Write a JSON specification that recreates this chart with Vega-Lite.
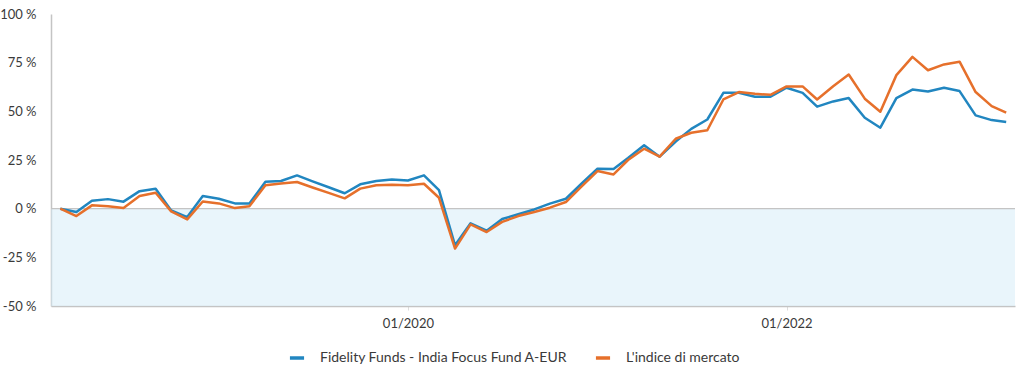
{
  "$schema": "https://vega.github.io/schema/vega-lite/v6.json",
  "width": 964,
  "height": 292,
  "autosize": {"type": "none"},
  "padding": {"left": 51, "top": 14, "right": 9, "bottom": 70},
  "config": {"view": {"stroke": null}, "font": "Lato"},
  "datasets": {
    "perf": [
      {"date": "2018-03-01", "series": "Fidelity Funds - India Focus Fund A-EUR", "value": 0},
      {"date": "2018-04-01", "series": "Fidelity Funds - India Focus Fund A-EUR", "value": -1.7},
      {"date": "2018-05-01", "series": "Fidelity Funds - India Focus Fund A-EUR", "value": 4.1},
      {"date": "2018-06-01", "series": "Fidelity Funds - India Focus Fund A-EUR", "value": 4.9},
      {"date": "2018-07-01", "series": "Fidelity Funds - India Focus Fund A-EUR", "value": 3.6},
      {"date": "2018-08-01", "series": "Fidelity Funds - India Focus Fund A-EUR", "value": 9.0},
      {"date": "2018-09-01", "series": "Fidelity Funds - India Focus Fund A-EUR", "value": 10.2},
      {"date": "2018-10-01", "series": "Fidelity Funds - India Focus Fund A-EUR", "value": -0.9},
      {"date": "2018-11-01", "series": "Fidelity Funds - India Focus Fund A-EUR", "value": -4.3},
      {"date": "2018-12-01", "series": "Fidelity Funds - India Focus Fund A-EUR", "value": 6.5},
      {"date": "2019-01-01", "series": "Fidelity Funds - India Focus Fund A-EUR", "value": 5.1},
      {"date": "2019-02-01", "series": "Fidelity Funds - India Focus Fund A-EUR", "value": 2.7},
      {"date": "2019-03-01", "series": "Fidelity Funds - India Focus Fund A-EUR", "value": 2.6},
      {"date": "2019-04-01", "series": "Fidelity Funds - India Focus Fund A-EUR", "value": 13.8},
      {"date": "2019-05-01", "series": "Fidelity Funds - India Focus Fund A-EUR", "value": 14.2},
      {"date": "2019-06-01", "series": "Fidelity Funds - India Focus Fund A-EUR", "value": 17.1},
      {"date": "2019-07-01", "series": "Fidelity Funds - India Focus Fund A-EUR", "value": 14.0},
      {"date": "2019-08-01", "series": "Fidelity Funds - India Focus Fund A-EUR", "value": 11.0},
      {"date": "2019-09-01", "series": "Fidelity Funds - India Focus Fund A-EUR", "value": 7.9},
      {"date": "2019-10-01", "series": "Fidelity Funds - India Focus Fund A-EUR", "value": 12.5},
      {"date": "2019-11-01", "series": "Fidelity Funds - India Focus Fund A-EUR", "value": 14.2},
      {"date": "2019-12-01", "series": "Fidelity Funds - India Focus Fund A-EUR", "value": 15.0},
      {"date": "2020-01-01", "series": "Fidelity Funds - India Focus Fund A-EUR", "value": 14.5},
      {"date": "2020-02-01", "series": "Fidelity Funds - India Focus Fund A-EUR", "value": 17.1},
      {"date": "2020-03-01", "series": "Fidelity Funds - India Focus Fund A-EUR", "value": 9.5},
      {"date": "2020-04-01", "series": "Fidelity Funds - India Focus Fund A-EUR", "value": -18.8},
      {"date": "2020-05-01", "series": "Fidelity Funds - India Focus Fund A-EUR", "value": -7.5},
      {"date": "2020-06-01", "series": "Fidelity Funds - India Focus Fund A-EUR", "value": -11.3},
      {"date": "2020-07-01", "series": "Fidelity Funds - India Focus Fund A-EUR", "value": -5.3},
      {"date": "2020-08-01", "series": "Fidelity Funds - India Focus Fund A-EUR", "value": -2.9},
      {"date": "2020-09-01", "series": "Fidelity Funds - India Focus Fund A-EUR", "value": -0.4},
      {"date": "2020-10-01", "series": "Fidelity Funds - India Focus Fund A-EUR", "value": 2.6},
      {"date": "2020-11-01", "series": "Fidelity Funds - India Focus Fund A-EUR", "value": 5.1},
      {"date": "2020-12-01", "series": "Fidelity Funds - India Focus Fund A-EUR", "value": 12.8},
      {"date": "2021-01-01", "series": "Fidelity Funds - India Focus Fund A-EUR", "value": 20.5},
      {"date": "2021-02-01", "series": "Fidelity Funds - India Focus Fund A-EUR", "value": 20.4},
      {"date": "2021-03-01", "series": "Fidelity Funds - India Focus Fund A-EUR", "value": 26.0},
      {"date": "2021-04-01", "series": "Fidelity Funds - India Focus Fund A-EUR", "value": 32.6},
      {"date": "2021-05-01", "series": "Fidelity Funds - India Focus Fund A-EUR", "value": 26.7},
      {"date": "2021-06-01", "series": "Fidelity Funds - India Focus Fund A-EUR", "value": 34.5},
      {"date": "2021-07-01", "series": "Fidelity Funds - India Focus Fund A-EUR", "value": 41.0},
      {"date": "2021-08-01", "series": "Fidelity Funds - India Focus Fund A-EUR", "value": 45.8},
      {"date": "2021-09-01", "series": "Fidelity Funds - India Focus Fund A-EUR", "value": 59.5},
      {"date": "2021-10-01", "series": "Fidelity Funds - India Focus Fund A-EUR", "value": 59.5},
      {"date": "2021-11-01", "series": "Fidelity Funds - India Focus Fund A-EUR", "value": 57.5},
      {"date": "2021-12-01", "series": "Fidelity Funds - India Focus Fund A-EUR", "value": 57.5},
      {"date": "2022-01-01", "series": "Fidelity Funds - India Focus Fund A-EUR", "value": 62.1},
      {"date": "2022-02-01", "series": "Fidelity Funds - India Focus Fund A-EUR", "value": 59.5},
      {"date": "2022-03-01", "series": "Fidelity Funds - India Focus Fund A-EUR", "value": 52.4},
      {"date": "2022-04-01", "series": "Fidelity Funds - India Focus Fund A-EUR", "value": 55.1},
      {"date": "2022-05-01", "series": "Fidelity Funds - India Focus Fund A-EUR", "value": 56.8},
      {"date": "2022-06-01", "series": "Fidelity Funds - India Focus Fund A-EUR", "value": 46.7},
      {"date": "2022-07-01", "series": "Fidelity Funds - India Focus Fund A-EUR", "value": 41.6},
      {"date": "2022-08-01", "series": "Fidelity Funds - India Focus Fund A-EUR", "value": 56.8},
      {"date": "2022-09-01", "series": "Fidelity Funds - India Focus Fund A-EUR", "value": 61.2},
      {"date": "2022-10-01", "series": "Fidelity Funds - India Focus Fund A-EUR", "value": 60.2},
      {"date": "2022-11-01", "series": "Fidelity Funds - India Focus Fund A-EUR", "value": 62.1},
      {"date": "2022-12-01", "series": "Fidelity Funds - India Focus Fund A-EUR", "value": 60.4},
      {"date": "2023-01-01", "series": "Fidelity Funds - India Focus Fund A-EUR", "value": 47.9},
      {"date": "2023-02-01", "series": "Fidelity Funds - India Focus Fund A-EUR", "value": 45.5},
      {"date": "2023-03-01", "series": "Fidelity Funds - India Focus Fund A-EUR", "value": 44.5},
      {"date": "2018-03-01", "series": "L'indice di mercato", "value": 0},
      {"date": "2018-04-01", "series": "L'indice di mercato", "value": -3.8},
      {"date": "2018-05-01", "series": "L'indice di mercato", "value": 1.7},
      {"date": "2018-06-01", "series": "L'indice di mercato", "value": 1.3},
      {"date": "2018-07-01", "series": "L'indice di mercato", "value": 0.3},
      {"date": "2018-08-01", "series": "L'indice di mercato", "value": 6.5},
      {"date": "2018-09-01", "series": "L'indice di mercato", "value": 8.2},
      {"date": "2018-10-01", "series": "L'indice di mercato", "value": -1.4},
      {"date": "2018-11-01", "series": "L'indice di mercato", "value": -5.5},
      {"date": "2018-12-01", "series": "L'indice di mercato", "value": 3.7},
      {"date": "2019-01-01", "series": "L'indice di mercato", "value": 2.7},
      {"date": "2019-02-01", "series": "L'indice di mercato", "value": 0.3},
      {"date": "2019-03-01", "series": "L'indice di mercato", "value": 1.2},
      {"date": "2019-04-01", "series": "L'indice di mercato", "value": 12.0},
      {"date": "2019-05-01", "series": "L'indice di mercato", "value": 12.9},
      {"date": "2019-06-01", "series": "L'indice di mercato", "value": 13.7},
      {"date": "2019-07-01", "series": "L'indice di mercato", "value": 10.9},
      {"date": "2019-08-01", "series": "L'indice di mercato", "value": 8.1},
      {"date": "2019-09-01", "series": "L'indice di mercato", "value": 5.3},
      {"date": "2019-10-01", "series": "L'indice di mercato", "value": 10.3},
      {"date": "2019-11-01", "series": "L'indice di mercato", "value": 12.0},
      {"date": "2019-12-01", "series": "L'indice di mercato", "value": 12.3},
      {"date": "2020-01-01", "series": "L'indice di mercato", "value": 12.0},
      {"date": "2020-02-01", "series": "L'indice di mercato", "value": 12.8},
      {"date": "2020-03-01", "series": "L'indice di mercato", "value": 5.6},
      {"date": "2020-04-01", "series": "L'indice di mercato", "value": -20.5},
      {"date": "2020-05-01", "series": "L'indice di mercato", "value": -8.1},
      {"date": "2020-06-01", "series": "L'indice di mercato", "value": -12.0},
      {"date": "2020-07-01", "series": "L'indice di mercato", "value": -6.8},
      {"date": "2020-08-01", "series": "L'indice di mercato", "value": -3.8},
      {"date": "2020-09-01", "series": "L'indice di mercato", "value": -1.7},
      {"date": "2020-10-01", "series": "L'indice di mercato", "value": 0.5},
      {"date": "2020-11-01", "series": "L'indice di mercato", "value": 3.4},
      {"date": "2020-12-01", "series": "L'indice di mercato", "value": 11.3},
      {"date": "2021-01-01", "series": "L'indice di mercato", "value": 19.3},
      {"date": "2021-02-01", "series": "L'indice di mercato", "value": 17.6},
      {"date": "2021-03-01", "series": "L'indice di mercato", "value": 25.0},
      {"date": "2021-04-01", "series": "L'indice di mercato", "value": 30.8},
      {"date": "2021-05-01", "series": "L'indice di mercato", "value": 26.7},
      {"date": "2021-06-01", "series": "L'indice di mercato", "value": 35.9},
      {"date": "2021-07-01", "series": "L'indice di mercato", "value": 39.0},
      {"date": "2021-08-01", "series": "L'indice di mercato", "value": 40.3},
      {"date": "2021-09-01", "series": "L'indice di mercato", "value": 56.1},
      {"date": "2021-10-01", "series": "L'indice di mercato", "value": 59.9},
      {"date": "2021-11-01", "series": "L'indice di mercato", "value": 59.0},
      {"date": "2021-12-01", "series": "L'indice di mercato", "value": 58.5},
      {"date": "2022-01-01", "series": "L'indice di mercato", "value": 62.8},
      {"date": "2022-02-01", "series": "L'indice di mercato", "value": 62.8},
      {"date": "2022-03-01", "series": "L'indice di mercato", "value": 56.1},
      {"date": "2022-04-01", "series": "L'indice di mercato", "value": 62.9},
      {"date": "2022-05-01", "series": "L'indice di mercato", "value": 68.9},
      {"date": "2022-06-01", "series": "L'indice di mercato", "value": 56.5},
      {"date": "2022-07-01", "series": "L'indice di mercato", "value": 49.8},
      {"date": "2022-08-01", "series": "L'indice di mercato", "value": 68.6},
      {"date": "2022-09-01", "series": "L'indice di mercato", "value": 78.0},
      {"date": "2022-10-01", "series": "L'indice di mercato", "value": 71.1},
      {"date": "2022-11-01", "series": "L'indice di mercato", "value": 74.1},
      {"date": "2022-12-01", "series": "L'indice di mercato", "value": 75.5},
      {"date": "2023-01-01", "series": "L'indice di mercato", "value": 59.9},
      {"date": "2023-02-01", "series": "L'indice di mercato", "value": 52.7},
      {"date": "2023-03-01", "series": "L'indice di mercato", "value": 49.3}
    ]
  },
  "layer": [
    {
      "data": {"values": [{}]},
      "mark": {"type": "rect", "color": "#d3ebf7", "opacity": 0.5},
      "encoding": {
        "y": {"datum": 0, "type": "quantitative"},
        "y2": {"datum": -50}
      }
    },
    {
      "data": {"values": [{}]},
      "mark": {"type": "rule", "color": "#c4c4c4", "strokeWidth": 1.2},
      "encoding": {
        "y": {"datum": 0, "type": "quantitative"}
      }
    },
    {
      "data": {"name": "perf"},
      "mark": {"type": "line", "strokeWidth": 2.5, "strokeJoin": "round"},
      "encoding": {
        "x": {
          "field": "date",
          "type": "temporal",
          "scale": {
            "type": "utc",
            "domain": [
              {"year": 2018, "month": 2, "date": 11, "utc": true},
              {"year": 2023, "month": 3, "date": 18, "utc": true}
            ]
          },
          "axis": {
            "title": null,
            "grid": false,
            "values": [
              {"year": 2020, "month": 1, "date": 1, "utc": true},
              {"year": 2022, "month": 1, "date": 1, "utc": true}
            ],
            "format": "%m/%Y",
            "domainColor": "#c4c4c4",
            "domainWidth": 1.5,
            "tickColor": "#dddddd",
            "tickSize": 4,
            "labelPadding": 7,
            "labelFontSize": 13,
            "labelColor": "#3a3a3a"
          }
        },
        "y": {
          "field": "value",
          "type": "quantitative",
          "scale": {"domain": [-50, 100], "nice": false, "zero": false},
          "axis": {
            "title": null,
            "values": [-50, -25, 0, 25, 50, 75, 100],
            "labelExpr": "datum.value + ' %'",
            "ticks": false,
            "labelPadding": 15,
            "gridColor": "#e5e5e5",
            "gridWidth": 1,
            "domainColor": "#c4c4c4",
            "domainWidth": 1.5,
            "labelFontSize": 13,
            "labelColor": "#3a3a3a"
          }
        },
        "color": {
          "field": "series",
          "type": "nominal",
          "scale": {
            "domain": ["Fidelity Funds - India Focus Fund A-EUR", "L'indice di mercato"],
            "range": ["#2186c0", "#e6702b"]
          },
          "legend": {
            "title": null,
            "orient": "none",
            "legendX": 237,
            "legendY": 335,
            "direction": "horizontal",
            "symbolType": "stroke",
            "symbolStrokeWidth": 3.5,
            "symbolSize": 200,
            "labelFontSize": 14,
            "labelLimit": 400,
            "labelColor": "#3a3a3a",
            "columnPadding": 20,
            "labelOffset": 14
          }
        }
      }
    }
  ]
}
